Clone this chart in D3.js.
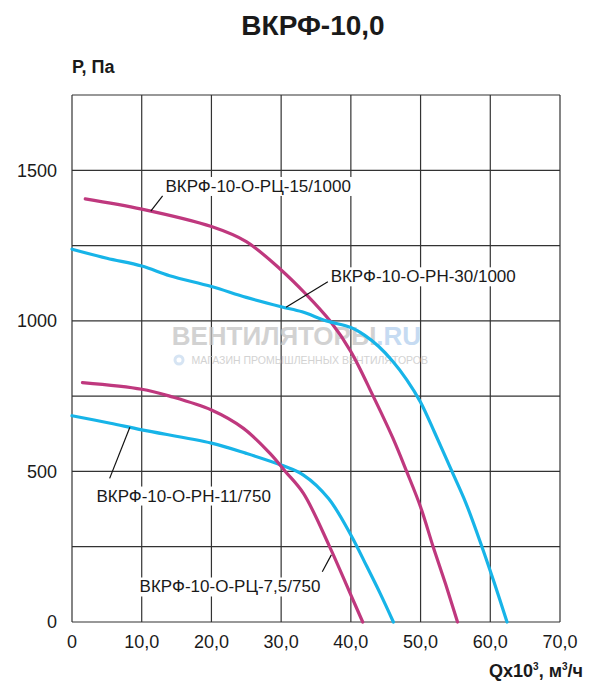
<!DOCTYPE html>
<html>
<head>
<meta charset="utf-8">
<script src="https://cdn.jsdelivr.net/npm/d3@7"></script>
<style>
  body { margin: 0; background: #fff; }
  svg text { font-family: "Liberation Sans", Arial, sans-serif; fill: #1a1a1a; }
</style>
</head>
<body>
<div id="chart"></div>
<script>
// flow Q (x10^3 m3/h) and pressure P (Pa)
const q_rc15 = [1.9, 10, 20, 25, 30, 33.5, 37, 40, 43.2, 46, 48, 50, 51.8, 53.6, 55.3];
const p_rc15 = [1405, 1371, 1313, 1263, 1169, 1090, 1000, 898, 750, 612, 500, 382, 250, 125, 0];

const q_rn30 = [0, 5, 10, 14, 20, 25, 30, 33, 36.5, 40, 42, 44, 46, 48, 50, 52, 54.5, 56.5, 58.8, 60.5, 62.4];
const p_rn30 = [1238, 1208, 1182, 1150, 1114, 1078, 1047, 1030, 1000, 978, 952, 915, 866, 805, 730, 630, 500, 395, 250, 135, 0];

const q_rc75 = [1.5, 10, 14, 20, 24.6, 28.4, 30.6, 33.2, 36.9, 39.9, 41.7];
const p_rc75 = [795, 773, 750, 704, 643, 560, 500, 427, 253, 95, 0];

const q_rn11 = [0, 5.5, 10, 20, 25, 30, 33.2, 36.8, 40, 42.3, 44.2, 46.1];
const p_rn11 = [685, 660, 638, 594, 560, 521, 488, 410, 289, 184, 95, 0];

const seriesNames = ["ВКРФ-10-О-РЦ-15/1000", "ВКРФ-10-О-РН-30/1000", "ВКРФ-10-О-РН-11/750", "ВКРФ-10-О-РЦ-7,5/750"];

const xTicks = [0, 10, 20, 30, 40, 50, 60, 70];
const xTickLabels = ["0", "10,0", "20,0", "30,0", "40,0", "50,0", "60,0", "70,0"];
const yTicks = [0, 500, 1000, 1500];
const yGrid = [0, 250, 500, 750, 1000, 1250, 1500, 1750];

const magenta = "#bf387e";
const cyan = "#17b4e8";

const width = 600, height = 692;
const margin = {top: 95, right: 40, bottom: 70, left: 72};

const svg = d3.select("#chart").append("svg")
    .attr("width", width)
    .attr("height", height);

const x = d3.scaleLinear().domain([0, 70]).range([margin.left, 560]);
const y = d3.scaleLinear().domain([0, 1750]).range([622, margin.top]);

// title
svg.append("text")
    .attr("x", 313).attr("y", 35)
    .attr("text-anchor", "middle")
    .style("font-size", "28px").style("font-weight", "bold")
    .text("ВКРФ-10,0");

svg.append("text")
    .attr("x", 72).attr("y", 73)
    .style("font-size", "18px").style("font-weight", "bold")
    .text("Р, Па");

// grid
const grid = svg.append("g").attr("stroke", "#333").attr("stroke-width", 1.2);
grid.selectAll(".vx").data(xTicks).enter().append("line")
    .attr("x1", d => x(d)).attr("x2", d => x(d))
    .attr("y1", y(0)).attr("y2", y(1750));
grid.selectAll(".hy").data(yGrid).enter().append("line")
    .attr("x1", x(0)).attr("x2", x(70))
    .attr("y1", d => y(d)).attr("y2", d => y(d));

// tick labels
svg.append("g").selectAll("text").data(xTicks).enter().append("text")
    .attr("x", d => x(d)).attr("y", 648)
    .attr("text-anchor", "middle")
    .style("font-size", "18px")
    .text((d, i) => xTickLabels[i]);

svg.append("g").selectAll("text").data(yTicks).enter().append("text")
    .attr("x", 57).attr("y", d => y(d))
    .attr("dy", "0.36em")
    .attr("text-anchor", "end")
    .style("font-size", "18px")
    .text(d => d);

// x axis title
const xt = svg.append("text")
    .attr("x", 583).attr("y", 677)
    .attr("text-anchor", "end")
    .style("font-size", "18px").style("font-weight", "bold");
xt.append("tspan").text("Qx10");
xt.append("tspan").attr("dy", -7).style("font-size", "10px").text("3");
xt.append("tspan").attr("dy", 7).text(", м");
xt.append("tspan").attr("dy", -7).style("font-size", "10px").text("3");
xt.append("tspan").attr("dy", 7).text("/ч");

// watermark
const wm = svg.append("g").attr("opacity", 0.75);
const wt = wm.append("text")
    .attr("x", x(14.3)).attr("y", 345)
    .style("font-size", "26px").style("font-weight", "bold");
wt.append("tspan").style("fill", "#c4c4c4").text("ВЕНТИЛЯТОРЫ");
wt.append("tspan").style("fill", "#b3d0ee").text(".RU");
wm.append("circle").attr("cx", 179).attr("cy", 360).attr("r", 5.5)
    .attr("fill", "#c9dcf0");
wm.append("circle").attr("cx", 179).attr("cy", 360).attr("r", 2.5)
    .attr("fill", "#fff");
wm.append("text")
    .attr("x", 428).attr("y", 364)
    .attr("text-anchor", "end")
    .style("font-size", "10.5px")
    .style("fill", "#c4c4c4")
    .text("МАГАЗИН ПРОМЫШЛЕННЫХ ВЕНТИЛЯТОРОВ");

// curves
const curves = [
    {q: q_rc15, p: p_rc15, color: magenta},
    {q: q_rn30, p: p_rn30, color: cyan},
    {q: q_rn11, p: p_rn11, color: cyan},
    {q: q_rc75, p: p_rc75, color: magenta}
];

const line = d3.line()
    .x(d => x(d[0]))
    .y(d => y(d[1]))
    .curve(d3.curveCatmullRom.alpha(0.5));

svg.append("g").selectAll("path").data(curves).enter().append("path")
    .attr("d", c => line(c.q.map((v, i) => [v, c.p[i]])))
    .attr("fill", "none")
    .attr("stroke", c => c.color)
    .attr("stroke-width", 3.2)
    .attr("stroke-linecap", "round");

// labels with leader lines (in data units)
const notes = [
    {name: seriesNames[0], tq: 13.4, tp: 1428, from: [13.0, 1415], to: [11.3, 1364]},
    {name: seriesNames[1], tq: 37.1, tp: 1128, from: [30.7, 1045], to: [36.7, 1130]},
    {name: seriesNames[2], tq: 3.5, tp: 400, from: [5.4, 477], to: [8.3, 647]},
    {name: seriesNames[3], tq: 9.7, tp: 98, from: [35.9, 167], to: [37.2, 223]}
];

const ng = svg.append("g");
notes.forEach(n => {
    ng.append("line")
        .attr("x1", x(n.from[0])).attr("y1", y(n.from[1]))
        .attr("x2", x(n.to[0])).attr("y2", y(n.to[1]))
        .attr("stroke", "#111").attr("stroke-width", 1.2);
    const t = ng.append("text")
        .attr("x", x(n.tq)).attr("y", y(n.tp))
        .style("font-size", "17px")
        .text(n.name);
    const bb = t.node().getBBox();
    ng.insert("rect", function() { return t.node(); })
        .attr("x", bb.x - 2).attr("y", bb.y)
        .attr("width", bb.width + 4).attr("height", bb.height)
        .attr("fill", "#fff");
});
</script>
</body>
</html>
